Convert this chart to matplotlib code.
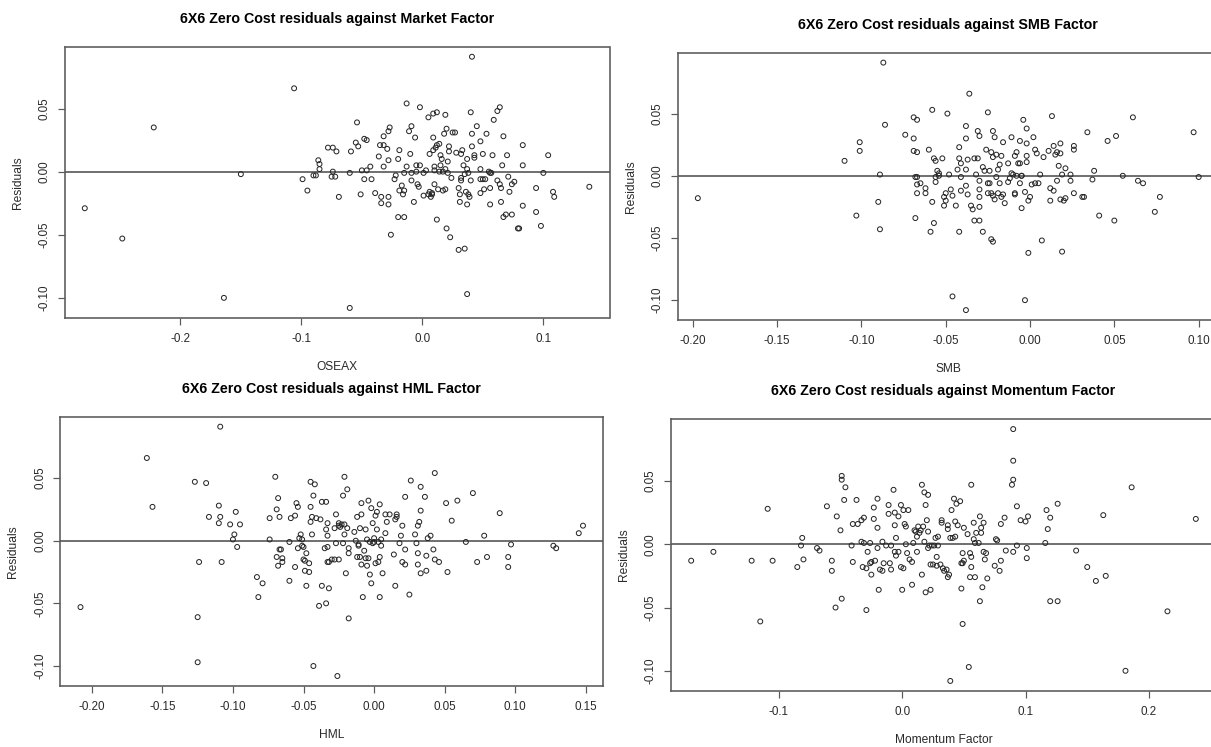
import matplotlib
matplotlib.use('Agg')
import matplotlib.pyplot as plt
from matplotlib.ticker import FixedLocator, FixedFormatter

plt.rcParams['font.family'] = ['Liberation Sans', 'DejaVu Sans']

# ---------------- data ----------------
mkt_x = [-0.279,-0.248,-0.222,-0.164,-0.150,-0.106,-0.060,0.041,0.037,0.138,
         -0.099,-0.095,-0.090,-0.088,-0.086,-0.085,-0.085,-0.078,-0.074,-0.074,
         -0.075,-0.072,-0.071,-0.069,-0.060,-0.059,-0.054,-0.055,-0.053,-0.051,
         -0.050,-0.048,-0.048,-0.046,-0.046,-0.043,-0.042,-0.039,-0.036,-0.035,
         -0.034,-0.034,-0.032,-0.032,-0.032,-0.029,-0.028,-0.028,-0.028,-0.028,
         -0.027,-0.026,-0.023,-0.022,-0.020,-0.020,-0.019,-0.019,-0.017,-0.016,
         -0.015,-0.015,-0.015,-0.013,-0.013,-0.011,-0.010,-0.009,-0.009,-0.009,
         -0.007,-0.006,-0.005,-0.005,-0.004,-0.003,-0.002,-0.002,0.001,0.001,
         0.003,0.005,0.005,0.006,0.006,0.007,0.008,0.008,0.009,0.009,
         0.009,0.010,0.010,0.010,0.011,0.012,0.012,0.012,0.013,0.014,
         0.014,0.015,0.015,0.016,0.017,0.017,0.018,0.019,0.019,0.019,
         0.020,0.020,0.021,0.021,0.022,0.022,0.023,0.024,0.025,0.027,
         0.028,0.030,0.030,0.031,0.031,0.032,0.032,0.032,0.033,0.034,
         0.035,0.035,0.036,0.037,0.037,0.037,0.038,0.038,0.039,0.040,
         0.040,0.041,0.041,0.043,0.043,0.045,0.048,0.048,0.048,0.048,
         0.050,0.050,0.051,0.052,0.053,0.055,0.056,0.056,0.056,0.057,
         0.058,0.059,0.062,0.062,0.064,0.064,0.065,0.065,0.066,0.067,
         0.067,0.069,0.070,0.071,0.072,0.074,0.074,0.076,0.079,0.080,
         0.083,0.083,0.083,0.094,0.094,0.098,0.100,0.104,0.108,0.109]
mkt_res = [-0.029,-0.053,0.035,-0.100,-0.002,0.066,-0.108,0.091,-0.097,-0.012,
           -0.006,-0.015,-0.003,-0.003,0.009,0.006,0.002,0.019,0.019,0.000,
           -0.004,-0.004,0.016,-0.020,-0.001,0.016,0.039,0.023,0.020,-0.018,
           0.001,0.026,-0.006,0.025,0.001,0.004,-0.006,-0.017,0.012,0.021,
           -0.020,-0.025,0.028,0.021,0.004,0.018,0.009,-0.020,-0.026,0.032,
           0.035,-0.050,-0.006,-0.003,-0.036,0.010,0.017,-0.015,-0.011,-0.018,
           -0.036,-0.015,-0.001,0.004,0.054,0.032,0.014,0.036,-0.007,-0.001,
           -0.024,0.027,0.005,0.000,-0.010,-0.012,0.051,0.005,-0.019,-0.001,
           0.001,0.043,-0.018,-0.016,0.014,-0.020,-0.018,-0.017,0.046,0.017,
           0.027,0.004,0.001,-0.010,0.019,0.021,-0.038,0.047,-0.014,0.000,
           0.022,0.005,0.013,0.010,-0.015,0.000,0.030,-0.014,0.002,0.045,
           0.034,-0.045,-0.001,0.008,0.020,0.016,-0.052,-0.005,0.031,0.031,
           0.015,-0.013,-0.062,-0.018,-0.024,0.014,-0.007,-0.005,0.017,0.005,
           -0.061,-0.002,-0.016,0.002,0.010,-0.026,-0.018,-0.001,-0.020,0.047,
           -0.007,0.030,0.020,0.013,0.011,0.036,-0.017,0.024,0.002,-0.006,
           -0.006,0.014,-0.014,-0.006,0.030,0.000,-0.026,-0.001,-0.013,-0.001,
           0.013,0.041,-0.007,0.048,-0.010,0.051,-0.013,-0.024,0.005,0.028,
           -0.036,-0.034,0.013,-0.004,-0.016,-0.034,-0.010,-0.008,-0.045,-0.045,
           0.021,0.005,-0.027,-0.013,-0.032,-0.043,-0.001,0.013,-0.016,-0.020]

smb_x = [-0.197,-0.110,-0.101,-0.101,-0.103,-0.089,-0.090,-0.089,-0.087,-0.086,
         -0.074,-0.069,-0.069,-0.067,-0.069,-0.067,-0.068,-0.067,-0.067,-0.065,
         -0.067,-0.068,-0.062,-0.062,-0.060,-0.058,-0.058,-0.057,-0.056,-0.056,
         -0.056,-0.057,-0.059,-0.055,-0.054,-0.054,-0.052,-0.051,-0.051,-0.050,
         -0.050,-0.049,-0.048,-0.047,-0.046,-0.046,-0.044,-0.043,-0.042,-0.042,
         -0.042,-0.041,-0.041,-0.041,-0.038,-0.038,-0.038,-0.038,-0.037,-0.038,
         -0.037,-0.035,-0.036,-0.034,-0.033,-0.033,-0.032,-0.031,-0.031,-0.030,
         -0.030,-0.030,-0.030,-0.030,-0.030,-0.028,-0.028,-0.027,-0.026,-0.025,
         -0.025,-0.025,-0.024,-0.024,-0.023,-0.022,-0.023,-0.023,-0.022,-0.022,
         -0.022,-0.021,-0.021,-0.020,-0.019,-0.020,-0.019,-0.018,-0.018,-0.017,
         -0.017,-0.016,-0.016,-0.015,-0.013,-0.013,-0.012,-0.011,-0.011,-0.010,
         -0.009,-0.009,-0.009,-0.008,-0.008,-0.007,-0.006,-0.006,-0.006,-0.005,
         -0.005,-0.005,-0.004,-0.003,-0.003,-0.002,-0.002,-0.002,-0.002,-0.001,
         -0.001,0.000,0.001,0.002,0.003,0.003,0.004,0.005,0.006,0.007,
         0.008,0.011,0.012,0.012,0.013,0.014,0.014,0.015,0.016,0.016,
         0.017,0.018,0.018,0.018,0.019,0.019,0.020,0.021,0.021,0.024,
         0.024,0.026,0.026,0.026,0.031,0.032,0.034,0.037,0.038,0.041,
         0.046,0.050,0.051,0.055,0.061,0.064,0.067,0.074,0.077,0.097,
         0.100]
smb_res = [-0.018,0.012,0.027,0.020,-0.032,0.001,-0.021,-0.043,0.091,0.041,
           0.033,0.030,0.047,0.045,0.020,0.019,-0.001,-0.001,-0.007,-0.006,
           -0.014,-0.034,-0.014,-0.010,0.021,-0.021,0.053,0.014,0.012,-0.001,
           -0.005,-0.038,-0.045,0.004,0.002,0.000,0.014,-0.017,-0.024,-0.020,
           -0.014,0.050,0.001,-0.011,-0.016,-0.097,-0.024,0.005,0.014,0.023,
           -0.045,0.010,-0.012,-0.001,0.005,0.030,0.040,-0.008,-0.015,-0.108,
           0.013,-0.024,0.066,-0.027,0.014,-0.036,0.001,0.014,0.036,-0.017,
           -0.011,-0.004,0.032,-0.025,-0.036,-0.045,0.007,0.004,0.021,0.051,
           -0.014,-0.006,-0.006,0.004,-0.051,-0.053,0.019,-0.014,0.036,0.015,
           -0.016,-0.019,0.031,-0.001,0.005,0.017,-0.014,0.009,-0.006,0.016,
           -0.017,0.027,-0.015,-0.022,0.010,-0.005,-0.002,0.031,0.002,0.001,
           -0.014,-0.015,0.016,0.000,0.019,0.010,0.028,-0.006,0.010,-0.026,
           0.000,-0.000,0.045,-0.100,-0.013,0.038,0.026,0.016,0.011,-0.020,
           -0.062,-0.017,-0.007,0.031,0.021,-0.006,0.018,-0.006,0.001,-0.052,
           0.015,0.020,-0.010,-0.020,0.048,-0.012,0.024,0.017,0.019,-0.004,
           0.008,0.026,0.018,-0.019,0.001,-0.061,-0.020,0.006,-0.018,0.001,
           -0.004,0.024,0.021,-0.014,-0.017,-0.017,0.035,-0.003,0.004,-0.032,
           0.028,-0.036,0.032,0.000,0.047,-0.004,-0.006,-0.029,-0.017,0.035,
           -0.001]

hml_x = [-0.208,-0.161,-0.157,-0.127,-0.125,-0.125,-0.124,-0.119,-0.117,-0.110,
         -0.110,-0.109,-0.109,-0.108,-0.102,-0.100,-0.099,-0.098,-0.097,-0.095,
         -0.083,-0.082,-0.079,-0.074,-0.074,-0.070,-0.069,-0.069,-0.068,-0.068,
         -0.067,-0.066,-0.067,-0.065,-0.065,-0.060,-0.060,-0.059,-0.056,-0.056,
         -0.055,-0.054,-0.054,-0.053,-0.052,-0.051,-0.051,-0.050,-0.050,-0.049,
         -0.049,-0.048,-0.048,-0.046,-0.046,-0.045,-0.045,-0.045,-0.044,-0.044,
         -0.043,-0.042,-0.043,-0.041,-0.039,-0.038,-0.037,-0.037,-0.035,-0.034,
         -0.034,-0.034,-0.033,-0.033,-0.033,-0.033,-0.032,-0.032,-0.030,-0.028,
         -0.028,-0.027,-0.027,-0.026,-0.025,-0.025,-0.025,-0.024,-0.023,-0.022,
         -0.022,-0.021,-0.021,-0.021,-0.020,-0.019,-0.019,-0.018,-0.018,-0.018,
         -0.014,-0.013,-0.012,-0.012,-0.011,-0.011,-0.010,-0.010,-0.009,-0.009,
         -0.009,-0.008,-0.007,-0.006,-0.006,-0.005,-0.005,-0.004,-0.004,-0.003,
         -0.003,-0.002,-0.002,-0.001,-0.001,-0.000,0.000,0.001,0.001,0.002,
         0.002,0.003,0.003,0.004,0.004,0.004,0.005,0.005,0.006,0.008,
         0.008,0.009,0.011,0.014,0.015,0.015,0.016,0.016,0.018,0.019,
         0.020,0.020,0.022,0.022,0.022,0.025,0.026,0.029,0.030,0.031,
         0.031,0.031,0.032,0.033,0.033,0.033,0.036,0.037,0.037,0.038,
         0.040,0.042,0.043,0.043,0.046,0.051,0.052,0.055,0.059,0.065,
         0.070,0.073,0.078,0.080,0.089,0.095,0.095,0.097,0.127,0.129,
         0.145,0.148]
hml_res = [-0.053,0.066,0.027,0.047,-0.061,-0.097,-0.017,0.046,0.019,0.028,
           0.014,0.091,0.019,-0.017,0.013,0.001,0.005,0.023,-0.005,0.013,
           -0.029,-0.045,-0.034,0.018,0.001,0.051,-0.013,0.025,0.034,-0.020,
           -0.007,-0.007,0.019,-0.014,-0.017,-0.032,-0.001,0.018,0.020,-0.021,
           0.030,-0.006,0.027,0.002,0.005,0.001,-0.004,-0.005,-0.015,-0.016,
           -0.024,-0.010,-0.036,-0.018,-0.025,0.027,0.047,0.015,0.005,0.019,
           0.036,0.045,-0.100,0.018,-0.052,0.017,0.031,-0.036,-0.006,0.031,
           0.009,-0.050,0.014,0.004,-0.005,-0.017,-0.038,-0.017,-0.015,0.010,
           -0.015,0.021,-0.002,-0.108,-0.015,0.014,0.012,0.011,0.013,-0.002,
           0.036,0.013,0.051,0.005,-0.026,0.041,0.010,-0.062,-0.010,-0.006,
           0.007,-0.000,-0.013,0.019,-0.003,-0.004,0.010,-0.013,0.030,-0.019,
           0.021,-0.045,-0.008,-0.014,0.009,0.001,-0.020,-0.014,0.032,-0.001,
           -0.027,-0.034,0.026,-0.002,0.014,0.002,-0.001,0.020,-0.018,0.023,
           0.009,-0.001,-0.017,0.029,-0.045,-0.013,-0.004,0.001,-0.026,0.021,
           0.006,0.015,0.021,-0.011,-0.036,0.017,0.021,0.019,-0.002,0.004,
           -0.017,0.012,-0.007,-0.019,0.035,-0.043,0.048,0.005,-0.002,-0.010,
           -0.019,0.012,0.015,-0.026,0.043,0.024,0.035,-0.024,-0.012,0.002,
           0.004,-0.007,0.054,-0.015,-0.017,0.030,-0.025,0.016,0.032,-0.001,
           0.038,-0.017,0.004,-0.013,0.022,-0.013,-0.021,-0.003,-0.004,-0.006,
           0.006,0.012]

mom_x = [-0.171,-0.153,-0.122,-0.115,-0.109,-0.105,-0.085,-0.081,-0.082,-0.080,
         -0.069,-0.067,-0.061,-0.057,-0.057,-0.053,-0.054,-0.050,-0.049,-0.049,
         -0.049,-0.046,-0.047,-0.041,-0.040,-0.040,-0.037,-0.036,-0.033,-0.033,
         -0.032,-0.031,-0.031,-0.029,-0.029,-0.028,-0.026,-0.026,-0.025,-0.025,
         -0.023,-0.023,-0.022,-0.020,-0.020,-0.020,-0.019,-0.018,-0.016,-0.016,
         -0.015,-0.013,-0.011,-0.011,-0.010,-0.009,-0.009,-0.007,-0.006,-0.006,
         -0.006,-0.005,-0.005,-0.003,-0.003,-0.001,-0.001,-0.000,0.001,0.001,
         0.002,0.003,0.003,0.004,0.005,0.006,0.008,0.008,0.009,0.010,
         0.011,0.012,0.012,0.013,0.014,0.015,0.016,0.016,0.017,0.018,
         0.018,0.019,0.019,0.020,0.021,0.021,0.021,0.022,0.023,0.023,
         0.024,0.025,0.026,0.027,0.028,0.028,0.029,0.029,0.031,0.032,
         0.032,0.033,0.034,0.036,0.037,0.037,0.037,0.038,0.039,0.039,
         0.040,0.041,0.042,0.043,0.043,0.044,0.045,0.047,0.048,0.049,
         0.048,0.049,0.049,0.050,0.050,0.053,0.054,0.055,0.055,0.056,
         0.056,0.056,0.058,0.058,0.059,0.059,0.060,0.062,0.063,0.063,
         0.064,0.064,0.065,0.066,0.066,0.067,0.068,0.069,0.075,0.076,
         0.077,0.079,0.080,0.080,0.083,0.084,0.089,0.090,0.090,0.090,
         0.090,0.093,0.093,0.096,0.100,0.101,0.101,0.102,0.116,0.117,
         0.118,0.120,0.120,0.126,0.126,0.141,0.150,0.157,0.163,0.165,
         0.186,0.181,0.215,0.238]
mom_res = [-0.013,-0.006,-0.013,-0.061,0.028,-0.013,-0.018,0.005,-0.001,-0.012,
           -0.003,-0.005,0.030,-0.013,-0.021,0.022,-0.050,0.011,0.054,0.051,
           -0.043,0.045,0.035,-0.001,-0.014,0.016,0.035,0.016,0.019,0.002,
           -0.018,0.021,0.001,-0.019,-0.052,-0.006,0.001,-0.015,-0.024,-0.014,
           0.029,0.020,-0.013,-0.003,0.036,0.013,-0.036,-0.020,0.002,-0.021,
           -0.015,-0.001,0.031,0.024,-0.015,-0.001,-0.020,0.043,0.015,-0.006,
           0.025,0.005,-0.009,0.022,-0.006,-0.018,0.031,-0.036,0.027,-0.019,
           0.016,0.000,0.014,-0.007,0.027,-0.012,-0.014,-0.032,0.001,0.011,
           0.010,-0.006,0.006,0.014,0.009,0.011,-0.024,0.047,0.014,0.041,
           0.002,0.031,-0.038,0.019,-0.003,0.039,0.010,-0.001,-0.016,-0.036,
           -0.001,-0.016,-0.001,0.005,-0.010,-0.017,-0.001,0.006,-0.016,0.019,
           0.017,-0.019,-0.021,-0.020,0.015,0.012,-0.026,-0.024,0.005,-0.108,
           0.027,0.005,0.036,0.006,0.018,0.032,0.015,0.034,-0.015,-0.015,
           -0.035,-0.063,-0.007,0.013,-0.013,0.008,-0.097,-0.007,-0.026,0.047,
           -0.010,-0.018,0.004,0.017,0.001,-0.026,0.009,0.001,0.022,-0.045,
           0.013,0.009,-0.034,0.017,-0.006,-0.012,-0.007,-0.027,-0.017,0.004,
           0.003,-0.021,-0.013,0.016,0.021,-0.005,0.047,0.051,0.091,0.066,
           -0.006,-0.001,0.030,0.019,0.018,-0.011,-0.003,0.022,0.001,0.027,
           0.012,-0.045,0.021,-0.045,0.032,-0.005,-0.018,-0.029,0.023,-0.025,
           0.045,-0.100,-0.053,0.020]

titles = ["6X6 Zero Cost residuals against Market Factor",
          "6X6 Zero Cost residuals against SMB Factor",
          "6X6 Zero Cost residuals against HML Factor",
          "6X6 Zero Cost residuals against Momentum Factor"]
xlabels = ["OSEAX", "SMB", "HML", "Momentum Factor"]
ylabel = "Residuals"

y_ticks = [-0.10, -0.05, 0.00, 0.05]
y_tick_labels = ["-0.10", "-0.05", "0.00", "0.05"]
mkt_ticks = [-0.2, -0.1, 0.0, 0.1]
mkt_tick_labels = ["-0.2", "-0.1", "0.0", "0.1"]
smb_ticks = [-0.20, -0.15, -0.10, -0.05, 0.00, 0.05, 0.10]
smb_tick_labels = ["-0.20", "-0.15", "-0.10", "-0.05", "0.00", "0.05", "0.10"]
hml_ticks = [-0.20, -0.15, -0.10, -0.05, 0.00, 0.05, 0.10, 0.15]
hml_tick_labels = ["-0.20", "-0.15", "-0.10", "-0.05", "0.00", "0.05", "0.10", "0.15"]
mom_ticks = [-0.1, 0.0, 0.1, 0.2]
mom_tick_labels = ["-0.1", "0.0", "0.1", "0.2"]

# ---------------- layout ----------------
W, H = 1211, 747
DPI = 100
PT = 72.0 / DPI  # points per pixel

# axes boxes in pixels: left, top, right, bottom
boxes = [(64.6, 46.7, 609.5, 318.0),
         (677.8, 52.7, 1218.7, 320.0),
         (60.4, 416.7, 603.1, 686.0),
         (671.0, 419.0, 1216.0, 691.0)]

panels = [(mkt_x, mkt_res, mkt_ticks, mkt_tick_labels),
          (smb_x, smb_res, smb_ticks, smb_tick_labels),
          (hml_x, hml_res, hml_ticks, hml_tick_labels),
          (mom_x, mom_res, mom_ticks, mom_tick_labels)]

fig = plt.figure(figsize=(W / DPI, H / DPI), dpi=DPI, facecolor='white')

line_col = '#5a5a5a'
text_col = '#2a2a2a'
tick_fs = 11.6 * PT
lab_fs = 12.0 * PT
title_fs = 14.3 * PT

for i, (xs, ys, xt, xtl) in enumerate(panels):
    l, t, r, b = boxes[i]
    ax = fig.add_axes([l / W, 1 - b / H, (r - l) / W, (b - t) / H])
    ax.scatter(xs, ys, s=(4.9 * PT) ** 2, facecolors='none',
               edgecolors='#262626', linewidths=1.0 * PT, zorder=3)
    ax.margins(x=0.04, y=0.04)
    ax.axhline(0, color=line_col, lw=1.7 * PT, zorder=2)
    for s in ax.spines.values():
        s.set_color(line_col)
        s.set_linewidth(1.6 * PT)
    ax.xaxis.set_major_locator(FixedLocator(xt))
    ax.xaxis.set_major_formatter(FixedFormatter(xtl))
    ax.yaxis.set_major_locator(FixedLocator(y_ticks))
    ax.yaxis.set_major_formatter(FixedFormatter(y_tick_labels))
    ax.tick_params(axis='both', direction='out', length=7 * PT, width=1.2 * PT,
                   color=line_col, labelsize=tick_fs, labelcolor=text_col)
    ax.tick_params(axis='x', pad=8.0 * PT)
    ax.tick_params(axis='y', pad=7.0 * PT)
    for lab in ax.get_yticklabels():
        lab.set_rotation(90)
        lab.set_va('center')
    ax.annotate(titles[i], xy=(0.5, 1.0), xycoords='axes fraction',
                xytext=(0, 27.5 * PT), textcoords='offset points',
                ha='center', va='center', fontsize=title_fs,
                fontweight='bold', color='black')
    ax.annotate(xlabels[i], xy=(0.5, 0.0), xycoords='axes fraction',
                xytext=(0, -49 * PT), textcoords='offset points',
                ha='center', va='center', fontsize=lab_fs, color=text_col)
    ax.annotate(ylabel, xy=(0.0, 0.5), xycoords='axes fraction',
                xytext=(-47 * PT, 0), textcoords='offset points',
                ha='center', va='center', rotation=90,
                fontsize=lab_fs, color=text_col)

fig.savefig('out.png', dpi=DPI, facecolor='white')
